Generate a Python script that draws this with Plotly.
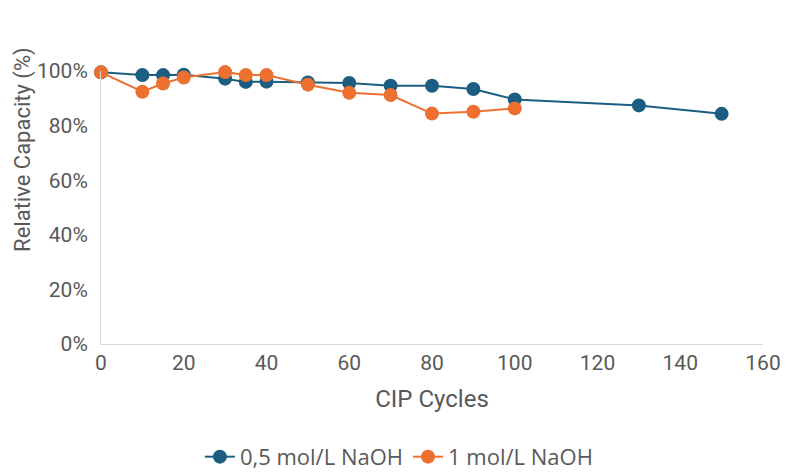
import plotly.graph_objects as go

cycles_05 = [0, 10, 15, 20, 30, 35, 40, 50, 60, 70, 80, 90, 100, 130, 150]
capacity_05 = [0.995, 0.985, 0.985, 0.986, 0.972, 0.960, 0.961, 0.958, 0.956, 0.946, 0.946, 0.934, 0.896, 0.874, 0.843]

cycles_1 = [0, 10, 15, 20, 30, 35, 40, 50, 60, 70, 80, 90, 100]
capacity_1 = [0.995, 0.924, 0.954, 0.976, 0.996, 0.985, 0.985, 0.950, 0.920, 0.912, 0.844, 0.851, 0.863]

name_05 = "0,5 mol/L NaOH"
name_1 = "1 mol/L NaOH"
y_title = "Relative Capacity (%)"
x_title = "CIP Cycles"

blue = "#1b5e82"
orange = "#ed7031"
grey = "#595959"

fig = go.Figure()
fig.add_trace(go.Scatter(x=cycles_05, y=capacity_05, name=name_05, mode="lines+markers",
                         line=dict(color=blue, width=2), marker=dict(size=14, color=blue),
                         cliponaxis=False))
fig.add_trace(go.Scatter(x=cycles_1, y=capacity_1, name=name_1, mode="lines+markers",
                         line=dict(color=orange, width=2), marker=dict(size=14, color=orange),
                         cliponaxis=False))

fig.add_annotation(text=y_title, textangle=-90, xref="paper", yref="paper",
                   x=0, y=0.711, xanchor="center", yanchor="middle", xshift=-78,
                   showarrow=False, font=dict(family="Roboto, Arial", size=22, color=grey))

fig.update_layout(
    width=810, height=475,
    margin=dict(l=93, r=55, t=63, b=139, autoexpand=False),
    paper_bgcolor="white", plot_bgcolor="white",
    font=dict(family="Roboto, Arial", color=grey, size=19),
    legend=dict(orientation="h", x=0.45, xanchor="center",
                yref="container", y=0.055, yanchor="middle",
                font=dict(family="Open Sans, Arial", size=22, color=grey)),
    xaxis=dict(range=[0, 160], dtick=20, showgrid=False, zeroline=False, automargin=False,
               showline=True, linecolor="#d9d9d9", linewidth=1, ticks="",
               title=dict(text=x_title, font=dict(size=24), standoff=15),
               tickfont=dict(size=21)),
    yaxis=dict(range=[0, 1.0], dtick=0.2, tickformat=".0%", showgrid=False, zeroline=False,
               automargin=False, ticklabelstandoff=8,
               showline=True, linecolor="#d9d9d9", linewidth=1, ticks="",
               tickfont=dict(size=21)),
)

fig.write_html("out.html")
